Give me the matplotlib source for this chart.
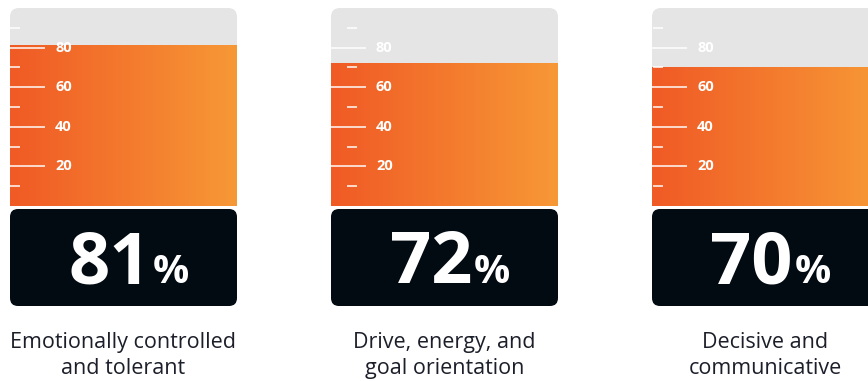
import numpy as np
import matplotlib
matplotlib.use('Agg')
import matplotlib.pyplot as plt
from matplotlib.patches import FancyBboxPatch
from matplotlib.colors import LinearSegmentedColormap

# data
captions = ['Emotionally controlled\nand tolerant',
            'Drive, energy, and\ngoal orientation',
            'Decisive and\ncommunicative']
values = [81, 72, 70]
major_ticks = [20, 40, 60, 80]
minor_ticks = [10, 30, 50, 70, 90]

# layout in pixels
W, H = 868, 381
panel_x = [10, 331, 652]
panel_w = 227
gauge_top, gauge_bot = 8, 206
box_top, box_bot = 209, 306
minor_off = [0, 16, 1]   # short ticks sit a bit further in on the middle one

fig = plt.figure(figsize=(W / 100, H / 100), dpi=100)
bg = fig.add_axes([0, 0, 1, 1])
bg.set_xlim(0, W)
bg.set_ylim(H, 0)
bg.axis('off')

cmap = LinearSegmentedColormap.from_list('orng', ['#f05a25', '#f79836'])
grad = np.linspace(0, 1, 256).reshape(1, -1)

for i in range(len(values)):
    x0 = panel_x[i]
    # grey tube behind the fill
    bg.add_patch(FancyBboxPatch((x0, gauge_top), panel_w, gauge_bot - gauge_top,
                                boxstyle='round,pad=0,rounding_size=9',
                                fc='#e5e5e5', ec='none'))
    # black box for the number
    bg.add_patch(FancyBboxPatch((x0, box_top), panel_w, box_bot - box_top,
                                boxstyle='round,pad=0,rounding_size=8',
                                fc='#020a12', ec='none'))
    bg.text(x0 + 141, 283, str(values[i]), ha='right', va='baseline',
            fontsize=52, fontweight='bold', color='white', family='Open Sans')
    bg.text(x0 + 143, 283, '%', ha='left', va='baseline',
            fontsize=29, fontweight='bold', color='white', family='Open Sans')
    bg.text(x0 + panel_w / 2, 332, captions[i], ha='center', va='top',
            fontsize=15.5, color='#1c1f2a', family='Open Sans', linespacing=1.3)

    # gauge axes, 0..100
    ax = fig.add_axes([x0 / W, (H - gauge_bot) / H, panel_w / W,
                       (gauge_bot - gauge_top) / H])
    ax.patch.set_alpha(0)
    ax.imshow(grad, extent=(0, 1, 0, values[i]), aspect='auto', cmap=cmap,
              origin='lower', interpolation='bilinear')
    ax.set_xlim(0, 1)
    ax.set_ylim(0, 100)
    ax.axis('off')

    ax.hlines(major_ticks, 0, 35 / panel_w, color='white', lw=1.2, alpha=0.9)
    ax.hlines(minor_ticks, minor_off[i] / panel_w, (minor_off[i] + 10) / panel_w,
              color='white', lw=1.2, alpha=0.9)
    for t in major_ticks:
        ax.text(45 / panel_w, t, str(t), va='center', ha='left', fontsize=10.5,
                fontweight='bold', color='white', family='Open Sans')

fig.savefig('out.png', dpi=100)
